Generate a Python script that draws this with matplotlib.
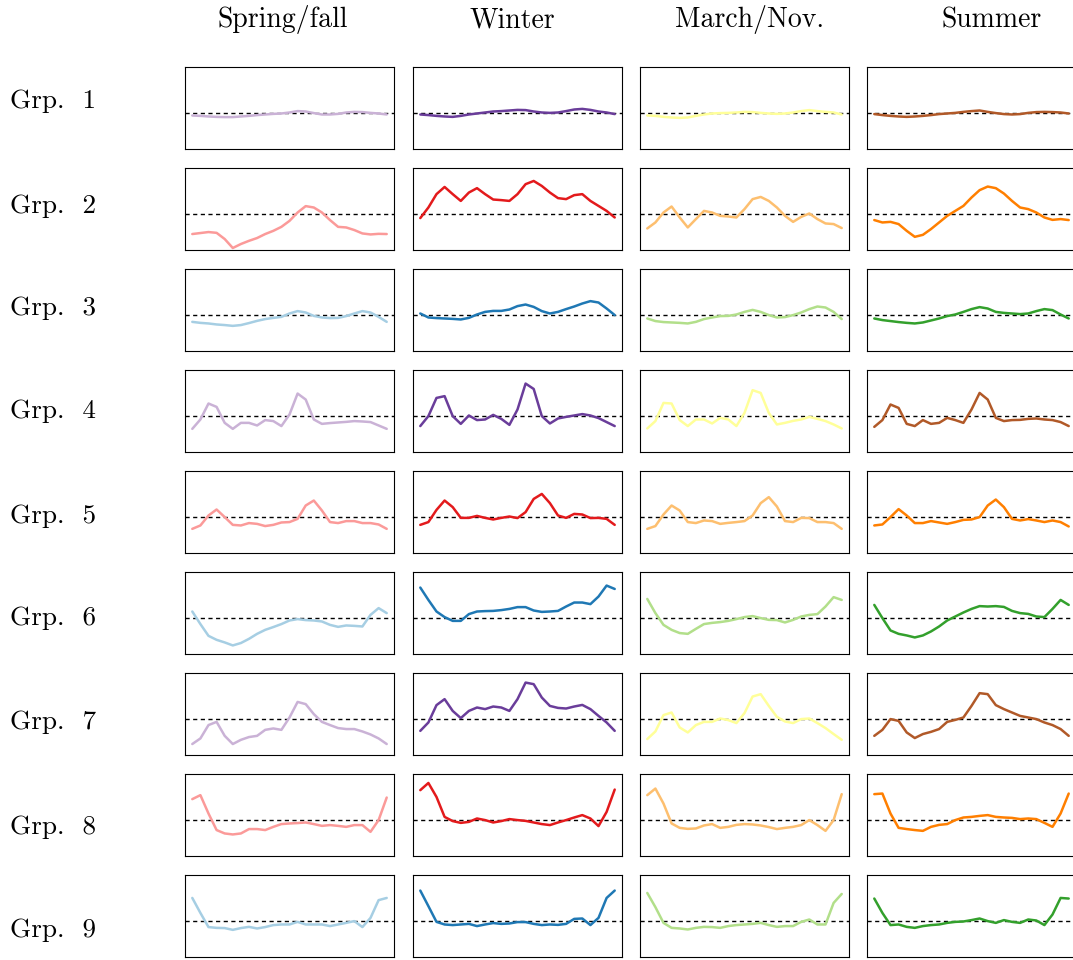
import matplotlib
matplotlib.use("Agg")
import matplotlib.pyplot as plt

plt.rcParams["font.family"] = ["cmr10", "DejaVu Serif"]
plt.rcParams["axes.formatter.use_mathtext"] = True

seasons = ["Spring/fall", "Winter", "March/Nov.", "Summer"]
groups = ["Grp.  %d" % i for i in range(1, 10)]

# Paired palette: one colour set per row pattern (rows 1,4,7 / 2,5,8 / 3,6,9)
colour_sets = [
    ["#cab2d6", "#6a3d9a", "#ffff99", "#b15928"],
    ["#fb9a99", "#e31a1c", "#fdbf6f", "#ff7f00"],
    ["#a6cee3", "#1f78b4", "#b2df8a", "#33a02c"],
]

hours = list(range(25))

# curves[row][col] (0 = dashed line)
g1 = [
    [-0.1, -0.12, -0.15, -0.17, -0.18, -0.18, -0.15, -0.12, -0.08, -0.05, -0.02, 0.0, 0.05, 0.12, 0.1, 0.02, -0.05, -0.05, -0.02, 0.05, 0.08, 0.07, 0.03, 0.0, -0.05],
    [-0.05, -0.08, -0.12, -0.15, -0.17, -0.12, -0.05, 0.0, 0.05, 0.1, 0.12, 0.15, 0.18, 0.17, 0.1, 0.05, 0.03, 0.05, 0.12, 0.2, 0.23, 0.18, 0.1, 0.05, -0.03],
    [-0.1, -0.12, -0.17, -0.2, -0.22, -0.2, -0.12, -0.05, 0.0, 0.02, 0.03, 0.05, 0.08, 0.07, 0.03, 0.0, -0.02, 0.0, 0.05, 0.12, 0.17, 0.12, 0.08, 0.05, -0.05],
    [-0.03, -0.08, -0.12, -0.15, -0.17, -0.15, -0.12, -0.08, -0.03, 0.0, 0.03, 0.08, 0.12, 0.15, 0.08, 0.02, -0.03, -0.05, -0.03, 0.03, 0.07, 0.08, 0.07, 0.05, 0.0],
]
g2 = [
    [-0.98, -0.93, -0.88, -0.92, -1.23, -1.68, -1.48, -1.32, -1.18, -0.98, -0.82, -0.62, -0.32, 0.1, 0.42, 0.35, 0.1, -0.28, -0.62, -0.65, -0.78, -0.95, -1.0, -0.97, -0.98],
    [-0.18, 0.35, 1.02, 1.38, 1.02, 0.68, 1.1, 1.32, 1.02, 0.75, 0.72, 0.68, 1.02, 1.52, 1.68, 1.43, 1.1, 0.82, 0.77, 0.97, 1.02, 0.68, 0.43, 0.18, -0.15],
    [-0.7, -0.4, 0.1, 0.4, -0.15, -0.65, -0.23, 0.18, 0.1, -0.07, -0.1, -0.15, 0.27, 0.77, 0.88, 0.68, 0.35, -0.07, -0.37, -0.12, 0.05, -0.23, -0.45, -0.48, -0.68],
    [-0.28, -0.4, -0.37, -0.48, -0.82, -1.12, -1.02, -0.73, -0.4, -0.07, 0.18, 0.43, 0.85, 1.22, 1.4, 1.32, 1.05, 0.68, 0.35, 0.27, 0.1, -0.15, -0.27, -0.23, -0.28],
]
g3 = [
    [-0.32, -0.37, -0.4, -0.45, -0.48, -0.52, -0.48, -0.38, -0.27, -0.18, -0.12, -0.07, 0.1, 0.22, 0.15, -0.02, -0.1, -0.13, -0.12, -0.03, 0.1, 0.22, 0.15, -0.07, -0.32],
    [0.1, -0.1, -0.13, -0.15, -0.17, -0.2, -0.12, 0.05, 0.18, 0.23, 0.23, 0.3, 0.47, 0.55, 0.43, 0.22, 0.1, 0.18, 0.32, 0.45, 0.6, 0.72, 0.65, 0.35, 0.02],
    [-0.15, -0.28, -0.33, -0.35, -0.37, -0.4, -0.32, -0.18, -0.1, -0.03, -0.02, 0.05, 0.18, 0.28, 0.18, 0.02, -0.1, -0.08, 0.02, 0.15, 0.32, 0.45, 0.4, 0.18, -0.18],
    [-0.15, -0.23, -0.28, -0.33, -0.37, -0.4, -0.35, -0.25, -0.15, -0.03, 0.05, 0.18, 0.32, 0.42, 0.35, 0.18, 0.13, 0.1, 0.07, 0.1, 0.22, 0.32, 0.27, 0.05, -0.15],
]
g4 = [
    [-0.62, -0.15, 0.65, 0.48, -0.32, -0.62, -0.32, -0.32, -0.45, -0.18, -0.23, -0.48, 0.1, 1.15, 0.85, -0.15, -0.37, -0.33, -0.3, -0.27, -0.23, -0.25, -0.28, -0.45, -0.62],
    [-0.48, 0.02, 0.93, 1.02, 0.02, -0.37, 0.05, -0.18, -0.15, 0.08, -0.12, -0.42, 0.35, 1.65, 1.38, 0.02, -0.35, -0.1, -0.02, 0.05, 0.12, 0.05, -0.08, -0.28, -0.48],
    [-0.6, -0.23, 0.68, 0.65, -0.18, -0.48, -0.15, -0.15, -0.35, -0.07, -0.15, -0.48, 0.18, 1.32, 1.18, 0.18, -0.4, -0.32, -0.22, -0.15, -0.02, -0.12, -0.23, -0.4, -0.6],
    [-0.52, -0.18, 0.6, 0.43, -0.37, -0.48, -0.18, -0.37, -0.32, -0.07, -0.18, -0.32, 0.35, 1.18, 0.85, -0.07, -0.23, -0.18, -0.17, -0.12, -0.1, -0.15, -0.18, -0.28, -0.48],
]
g5 = [
    [-0.57, -0.4, 0.1, 0.4, 0.02, -0.37, -0.4, -0.28, -0.32, -0.43, -0.37, -0.25, -0.23, -0.07, 0.6, 0.85, 0.35, -0.23, -0.28, -0.18, -0.18, -0.28, -0.28, -0.35, -0.57],
    [-0.37, -0.23, 0.38, 0.85, 0.52, -0.02, -0.02, 0.08, -0.02, -0.1, -0.02, 0.05, -0.03, 0.27, 0.93, 1.18, 0.72, 0.1, -0.02, 0.18, 0.15, -0.03, -0.02, -0.07, -0.37],
    [-0.57, -0.43, 0.15, 0.6, 0.35, -0.23, -0.28, -0.15, -0.18, -0.32, -0.27, -0.23, -0.18, 0.1, 0.72, 1.02, 0.55, -0.18, -0.23, -0.02, -0.03, -0.23, -0.23, -0.28, -0.57],
    [-0.4, -0.35, 0.02, 0.42, 0.1, -0.28, -0.28, -0.18, -0.25, -0.32, -0.23, -0.12, -0.1, 0.02, 0.6, 0.9, 0.52, -0.07, -0.15, -0.08, -0.15, -0.23, -0.15, -0.23, -0.45],
]
g6 = [
    [0.35, -0.28, -0.87, -1.07, -1.2, -1.35, -1.23, -1.02, -0.77, -0.57, -0.43, -0.28, -0.1, -0.03, -0.08, -0.1, -0.15, -0.32, -0.42, -0.35, -0.37, -0.4, 0.18, 0.52, 0.27],
    [1.55, 0.93, 0.35, 0.07, -0.12, -0.12, 0.22, 0.35, 0.37, 0.38, 0.42, 0.48, 0.57, 0.57, 0.4, 0.33, 0.35, 0.38, 0.6, 0.8, 0.8, 0.72, 1.1, 1.65, 1.48],
    [0.98, 0.27, -0.32, -0.57, -0.73, -0.77, -0.52, -0.28, -0.22, -0.18, -0.12, -0.03, 0.07, 0.12, 0.02, -0.07, -0.08, -0.2, -0.07, 0.1, 0.18, 0.22, 0.6, 1.07, 0.93],
    [0.68, 0.02, -0.6, -0.77, -0.85, -0.95, -0.85, -0.65, -0.4, -0.1, 0.1, 0.3, 0.48, 0.62, 0.6, 0.62, 0.58, 0.38, 0.27, 0.23, 0.1, 0.07, 0.48, 0.93, 0.68],
]
g7 = [
    [-1.23, -0.95, -0.28, -0.12, -0.82, -1.23, -1.02, -0.88, -0.82, -0.52, -0.45, -0.52, 0.1, 0.88, 0.77, 0.27, -0.12, -0.28, -0.43, -0.48, -0.48, -0.6, -0.75, -0.95, -1.23],
    [-0.57, -0.15, 0.72, 1.02, 0.43, 0.07, 0.43, 0.6, 0.52, 0.65, 0.6, 0.43, 1.02, 1.85, 1.77, 1.1, 0.68, 0.58, 0.55, 0.65, 0.73, 0.52, 0.18, -0.15, -0.57],
    [-0.98, -0.6, 0.22, 0.35, -0.4, -0.65, -0.28, -0.12, -0.12, 0.05, -0.03, -0.18, 0.32, 1.15, 1.27, 0.68, 0.13, -0.1, -0.18, 0.02, 0.05, -0.18, -0.43, -0.73, -1.02],
    [-0.82, -0.52, 0.02, -0.07, -0.65, -0.93, -0.73, -0.62, -0.48, -0.12, -0.02, 0.1, 0.68, 1.32, 1.27, 0.72, 0.52, 0.35, 0.18, 0.1, 0.02, -0.15, -0.28, -0.48, -0.82],
]
g8 = [
    [1.07, 1.27, 0.35, -0.48, -0.65, -0.7, -0.65, -0.43, -0.43, -0.48, -0.32, -0.18, -0.15, -0.13, -0.1, -0.18, -0.27, -0.23, -0.27, -0.32, -0.23, -0.23, -0.57, 0.02, 1.15],
    [1.52, 1.88, 1.18, 0.18, -0.03, -0.12, -0.07, 0.1, 0.02, -0.1, -0.03, 0.07, 0.02, -0.02, -0.1, -0.18, -0.23, -0.1, 0.02, 0.15, 0.27, 0.1, -0.28, 0.43, 1.55],
    [1.27, 1.6, 0.85, -0.15, -0.37, -0.42, -0.4, -0.25, -0.18, -0.37, -0.32, -0.22, -0.18, -0.2, -0.25, -0.33, -0.43, -0.37, -0.32, -0.23, 0.02, -0.23, -0.52, 0.02, 1.32],
    [1.32, 1.35, 0.35, -0.37, -0.43, -0.48, -0.52, -0.32, -0.22, -0.18, 0.02, 0.15, 0.18, 0.23, 0.27, 0.18, 0.15, 0.13, 0.07, 0.1, 0.07, -0.12, -0.32, 0.35, 1.35],
]
g9 = [
    [1.18, 0.43, -0.28, -0.32, -0.33, -0.42, -0.33, -0.27, -0.35, -0.28, -0.18, -0.15, -0.15, -0.02, -0.15, -0.15, -0.15, -0.23, -0.15, -0.07, 0.02, -0.28, 0.18, 1.07, 1.18],
    [1.55, 0.77, -0.02, -0.15, -0.18, -0.15, -0.12, -0.23, -0.15, -0.08, -0.12, -0.1, -0.03, -0.03, -0.12, -0.18, -0.15, -0.17, -0.12, 0.13, 0.15, -0.18, 0.18, 1.18, 1.55],
    [1.43, 0.72, -0.07, -0.32, -0.35, -0.4, -0.32, -0.27, -0.28, -0.32, -0.23, -0.18, -0.15, -0.12, -0.07, -0.18, -0.27, -0.23, -0.23, -0.02, 0.1, -0.15, -0.15, 0.93, 1.38],
    [1.15, 0.43, -0.18, -0.15, -0.27, -0.32, -0.23, -0.18, -0.15, -0.07, -0.02, 0.0, 0.07, 0.15, 0.02, -0.07, 0.07, -0.02, -0.07, 0.1, 0.05, -0.18, 0.35, 1.18, 1.15],
]
curves = [g1, g2, g3, g4, g5, g6, g7, g8, g9]

W, H = 1073, 960
fig = plt.figure(figsize=(W / 100, H / 100), dpi=100)

col_left = [185, 413, 640, 867]
row_top = [67, 168, 269, 370, 471, 572, 673, 774, 875]
pw, ph = 209, 82

for r in range(9):
    cols = colour_sets[r % 3]
    for c in range(4):
        ax = fig.add_axes([col_left[c] / W, 1 - (row_top[r] + ph) / H, pw / W, ph / H])
        ax.axhline(0, color="black", lw=1.0, ls=(0, (3, 2.5)), zorder=1)
        ax.plot(hours, curves[r][c], color=cols[c], lw=1.8, zorder=2,
                solid_joinstyle="round", solid_capstyle="round")
        ax.set_xlim(-0.9, 24.9)
        ax.set_ylim(-1.78, 2.33)
        ax.set_xticks([])
        ax.set_yticks([])
        for s in ax.spines.values():
            s.set_linewidth(0.8)

title_x = [283, 512, 749, 992]
for t, x in zip(seasons, title_x):
    fig.text(x / W, 1 - 20 / H, t, ha="center", va="center", fontsize=20)

label_y = [101, 206, 308, 411, 516, 618, 722, 827, 930]
for g, y in zip(groups, label_y):
    fig.text(10 / W, 1 - y / H, g, ha="left", va="center", fontsize=19.5)

fig.savefig("out.png", dpi=100)
